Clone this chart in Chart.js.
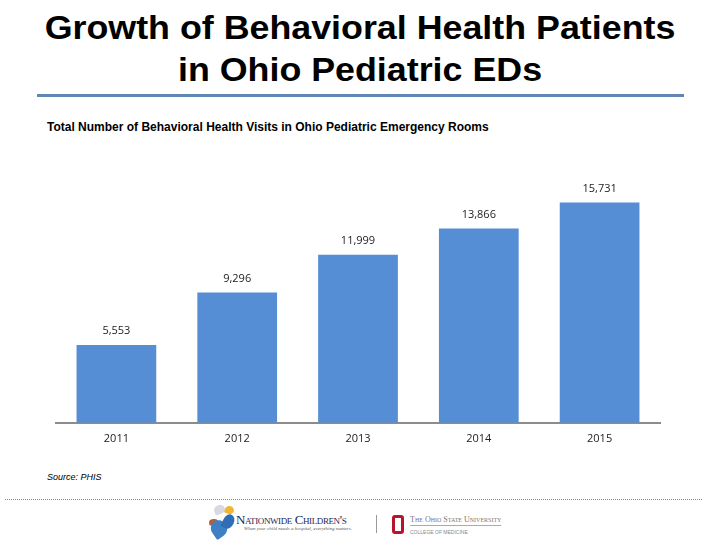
<!DOCTYPE html>
<html>
<head>
<meta charset="utf-8">
<script src="https://cdn.jsdelivr.net/npm/chart.js@4"></script>
<style>
  body { margin: 0; width: 720px; height: 540px; background: #fff; position: relative; overflow: hidden; font-family: "Liberation Sans", Arial, sans-serif; }
  #title { position: absolute; top: 7px; left: 0; width: 720px; text-align: center; font-size: 33px; line-height: 42px; color: #000; font-weight: bold; transform: scaleX(1.085); transform-origin: 360px 0; }
  #rule { position: absolute; top: 94px; left: 37px; width: 647px; height: 3px; background: #6087b4; }
  #sub { position: absolute; top: 120px; left: 47px; font-size: 12px; font-weight: bold; color: #000; letter-spacing: 0px; }
  #wrap { position: absolute; left: 50px; top: 150px; width: 616px; height: 300px; }
  #source { position: absolute; top: 472px; left: 47px; font-size: 9px; font-style: italic; color: #000; }
  #dots { position: absolute; top: 499px; left: 5px; width: 697px; border-top: 1px dotted #888; }
  .bf { position: absolute; border-radius: 50% 50% 50% 10%; }
  #nw { position: absolute; top: 512px; left: 236px; font-family: "Liberation Serif", serif; font-size: 13px; font-variant: small-caps; color: #1b2a5a; letter-spacing: -0.4px; white-space: nowrap; }
  #nw small { display: block; font-size: 5px; font-style: italic; font-variant: normal; color: #555; margin-left: 8px; margin-top: -2px; letter-spacing: 0; }
  #bar { position: absolute; top: 515px; left: 376px; width: 1px; height: 18px; background: #999; }
  #ohio { position: absolute; top: 515px; left: 392px; width: 6px; height: 13px; border: 3px solid #b5162b; border-radius: 3px; }
  #osu { position: absolute; top: 515px; left: 410px; font-family: "Liberation Serif", serif; font-size: 8px; font-variant: small-caps; color: #777; border-bottom: 1px solid #aaa; padding-bottom: 1px; white-space: nowrap; }
  #osu small { position: absolute; top: 14px; left: 0; font-family: "Liberation Sans", sans-serif; font-size: 5px; font-variant: normal; color: #888; white-space: nowrap; }
</style>
</head>
<body>
<div id="title">Growth of Behavioral Health Patients<br>in Ohio Pediatric EDs</div>
<div id="rule"></div>
<div id="sub">Total Number of Behavioral Health Visits in Ohio Pediatric Emergency Rooms</div>
<div id="wrap"><canvas id="chart"></canvas></div>
<div id="source">Source: PHIS</div>
<div id="dots"></div>
<div class="bf" style="left:214px;top:505px;width:11px;height:9px;background:#d8d8e0;transform:rotate(-20deg)"></div>
<div class="bf" style="left:225px;top:506px;width:9px;height:8px;background:#f2b632;transform:rotate(20deg)"></div>
<div class="bf" style="left:209px;top:519px;width:9px;height:6px;background:#b0603a;transform:rotate(-10deg)"></div>
<div class="bf" style="left:211px;top:520px;width:16px;height:17px;background:#3f7fc4;transform:rotate(-35deg)"></div>
<div class="bf" style="left:223px;top:514px;width:11px;height:15px;background:#2f6db5;transform:rotate(25deg)"></div>
<div id="nw">Nationwide Children's<small>When your child needs a hospital, everything matters.</small></div>
<div id="bar"></div>
<div id="ohio"></div>
<div id="osu">The Ohio State University<small>COLLEGE OF MEDICINE</small></div>
<script>
const years = ["2011", "2012", "2013", "2014", "2015"];
const visits = [5553, 9296, 11999, 13866, 15731];

const valueLabels = {
  id: "valueLabels",
  afterDatasetsDraw(chart) {
    const ctx = chart.ctx;
    const meta = chart.getDatasetMeta(0);
    ctx.save();
    ctx.font = "11px 'Open Sans', sans-serif";
    ctx.fillStyle = "#222";
    ctx.textAlign = "center";
    ctx.textBaseline = "middle";
    meta.data.forEach((bar, i) => {
      ctx.fillText(visits[i].toLocaleString("en-US"), bar.x, bar.y - 14);
    });
    ctx.restore();
  }
};

const ctx = document.getElementById("chart").getContext("2d");
new Chart(ctx, {
  type: "bar",
  data: {
    labels: years,
    datasets: [{
      data: visits,
      backgroundColor: "#558ed5",
      categoryPercentage: 1,
      barPercentage: 0.66
    }]
  },
  options: {
    responsive: true,
    maintainAspectRatio: false,
    animation: false,
    layout: { padding: { top: 15, left: 6, right: 6, bottom: 4 } },
    plugins: { legend: { display: false }, tooltip: { enabled: false } },
    scales: {
      x: {
        grid: { display: false },
        border: { color: "#8c8c8c", width: 2 },
        ticks: { color: "#222", font: { family: "'Open Sans', sans-serif", size: 11 }, padding: 1 }
      },
      y: { display: false, min: 0, max: 18400 }
    }
  },
  plugins: [valueLabels]
});
</script>
</body>
</html>
